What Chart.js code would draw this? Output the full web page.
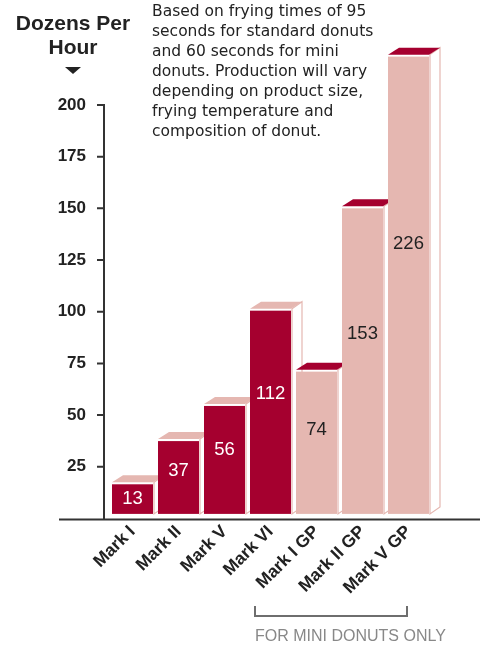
<!DOCTYPE html>
<html>
<head>
<meta charset="utf-8">
<script src="https://cdn.jsdelivr.net/npm/chart.js@4.4.1/dist/chart.umd.min.js"></script>
<style>
  html, body { margin: 0; padding: 0; background: #fff; }
  #wrap { position: relative; width: 486px; height: 646px; overflow: hidden; }
  #chart { position: absolute; left: 0; top: 0; }
  .title {
    position: absolute; left: 0; top: 11px; width: 146px;
    font: bold 21px "Liberation Sans", Arial, sans-serif; line-height: 24px;
    text-align: center; color: #222;
  }
  .arrow {
    position: absolute; left: 65px; top: 67px; width: 0; height: 0;
    border-left: 8px solid transparent; border-right: 8px solid transparent;
    border-top: 7px solid #222;
  }
  .note {
    position: absolute; left: 152px; top: 1px; width: 330px;
    font: 15.5px "DejaVu Sans", sans-serif; line-height: 20px; color: #222;
  }
  .bracket {
    position: absolute; left: 254px; top: 606px; width: 150px; height: 9px;
    border: 2.5px solid #6e6e6e; border-top: none;
  }
  .mini {
    position: absolute; left: 255px; top: 627px;
    font: 16px "Liberation Sans", Arial, sans-serif; color: #888; white-space: nowrap;
  }
</style>
</head>
<body>
<div id="wrap">
  <canvas id="chart" width="486" height="646"></canvas>
  <div class="title">Dozens Per<br>Hour</div>
  <div class="arrow"></div>
  <div class="note">Based on frying times of 95<br>seconds for standard donuts<br>and 60 seconds for mini<br>donuts. Production will vary<br>depending on product size,<br>frying temperature and<br>composition of donut.</div>
  <div class="bracket"></div>
  <div class="mini">FOR MINI DONUTS ONLY</div>
</div>
<script>
// =====================
// Data
// =====================

const models = ["Mark I", "Mark II", "Mark V", "Mark VI", "Mark I GP", "Mark II GP", "Mark V GP"];
const valueLabels = [13, 37, 56, 112, 74, 153, 226];           // numbers printed on the bars
const barHeights = [16.5, 37.4, 54.4, 100.5, 71, 150, 223.4];  // bar tops as read against the axis
const miniOnly = [false, false, false, false, true, true, true];
const yTickValues = [25, 50, 75, 100, 125, 150, 175, 200];

const RED = "#a5002f";
const PINK = "#e5b7b1";

// =====================
// 3D bars + axes
// =====================

const boxBars = {
  id: "boxBars",
  afterDatasetsDraw(chart) {
    const ctx = chart.ctx;
    const meta = chart.getDatasetMeta(0);
    const dx = 11, dy = 7, gap = 2;

    ctx.save();
    meta.data.forEach((bar, i) => {
      const x0 = bar.x - bar.width / 2;
      const x1 = bar.x + bar.width / 2;
      const top = bar.y;
      const bottom = bar.base - 4.5;
      const front = miniOnly[i] ? PINK : RED;
      const lid = miniOnly[i] ? RED : PINK;

      // side face
      ctx.beginPath();
      ctx.moveTo(x1 + 1, top - gap);
      ctx.lineTo(x1 + dx, top - gap - dy);
      ctx.lineTo(x1 + dx, bottom - dy);
      ctx.lineTo(x1 + 1, bottom);
      ctx.closePath();
      ctx.fillStyle = "#fff";
      ctx.fill();
      ctx.strokeStyle = PINK;
      ctx.lineWidth = 1.2;
      ctx.stroke();

      // top face
      ctx.beginPath();
      ctx.moveTo(x0, top - gap);
      ctx.lineTo(x1, top - gap);
      ctx.lineTo(x1 + dx, top - gap - dy);
      ctx.lineTo(x0 + dx, top - gap - dy);
      ctx.closePath();
      ctx.fillStyle = lid;
      ctx.fill();

      // front face
      ctx.fillStyle = front;
      ctx.fillRect(x0, top, x1 - x0, bottom - top);

      // value
      const h = bottom - top;
      const off = Math.min(h / 2, Math.max(h * 0.41, 15));
      ctx.fillStyle = miniOnly[i] ? "#222" : "#fff";
      ctx.font = '18.5px "Liberation Sans", Arial, sans-serif';
      ctx.textAlign = "center";
      ctx.textBaseline = "middle";
      ctx.fillText(String(valueLabels[i]), bar.x, top + off);
    });
    ctx.restore();
  },
  afterDraw(chart) {
    const ctx = chart.ctx;
    const y = chart.scales.y;
    const axisX = 104;
    const zero = y.getPixelForValue(0) + 1;

    ctx.save();
    ctx.strokeStyle = "#333";
    ctx.lineWidth = 2;
    ctx.beginPath();
    ctx.moveTo(axisX, y.getPixelForValue(200) - 1);
    ctx.lineTo(axisX, zero);
    ctx.moveTo(59, zero);
    ctx.lineTo(480, zero);
    yTickValues.forEach(v => {
      const py = y.getPixelForValue(v);
      ctx.moveTo(97, py);
      ctx.lineTo(axisX + 1, py);
    });
    ctx.stroke();
    ctx.restore();
  }
};

// =====================
// Chart
// =====================

new Chart(document.getElementById("chart"), {
  type: "bar",
  data: {
    labels: models,
    datasets: [{
      data: barHeights,
      backgroundColor: "rgba(0,0,0,0)",
      categoryPercentage: 1,
      barPercentage: 41 / 46,
      clip: false
    }]
  },
  options: {
    responsive: false,
    animation: false,
    events: [],
    layout: { padding: { left: 0, right: 54.5, top: 105, bottom: 0 } },
    plugins: {
      legend: { display: false },
      tooltip: { enabled: false }
    },
    scales: {
      x: {
        offset: true,
        grid: { display: false, drawTicks: false },
        border: { display: false },
        ticks: {
          autoSkip: false,
          minRotation: 45,
          maxRotation: 45,
          padding: 3,
          color: "#222",
          font: { family: '"Liberation Sans", Arial, sans-serif', size: 17.5, weight: "bold" }
        },
        afterFit(scale) { scale.height = 646 - 518.4; }
      },
      y: {
        min: 0,
        max: 200,
        grid: { display: false, drawTicks: false },
        border: { display: false },
        afterBuildTicks(scale) { scale.ticks = yTickValues.map(v => ({ value: v })); },
        ticks: {
          padding: 23.5,
          color: "#222",
          font: { family: '"Liberation Sans", Arial, sans-serif', size: 17, weight: "bold" }
        },
        afterFit(scale) { scale.width = 109.5; }
      }
    }
  },
  plugins: [boxBars]
});
</script>
</body>
</html>
